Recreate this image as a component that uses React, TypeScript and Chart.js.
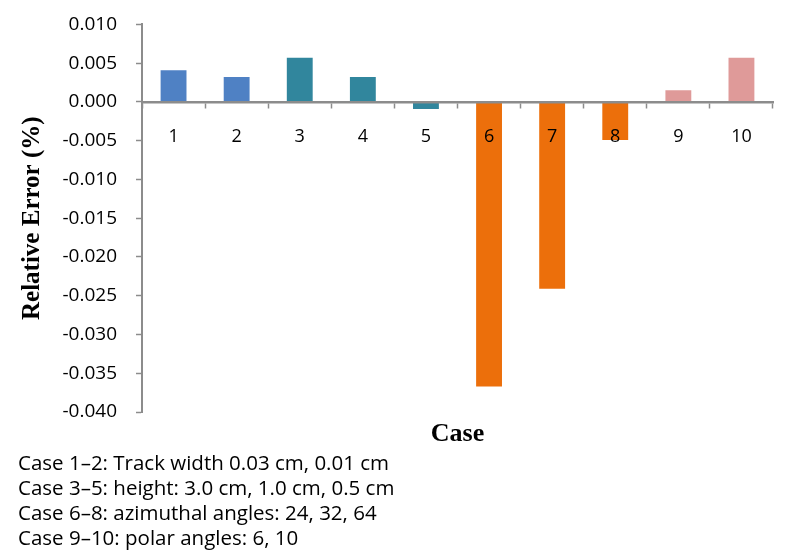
import React, { useEffect, useRef } from "react";
import { Chart, registerables } from "chart.js";

Chart.register(...registerables);

const categories = ["1", "2", "3", "4", "5", "6", "7", "8", "9", "10"];
const relativeError = [0.0041, 0.0032, 0.0057, 0.0032, -0.0009, -0.0367, -0.0241, -0.0049, 0.0015, 0.0057];
const barColors = ["#4F81C4", "#4F81C4", "#31869D", "#31869D", "#31869D", "#EC6F0B", "#EC6F0B", "#EC6F0B", "#DF9A99", "#DF9A99"];
const yTitle = "Relative Error (%)";
const xTitle = "Case";
const captionLines = [
  "Case 1–2: Track width 0.03 cm, 0.01 cm",
  "Case 3–5: height: 3.0 cm, 1.0 cm, 0.5 cm",
  "Case 6–8: azimuthal angles: 24, 32, 64",
  "Case 9–10: polar angles: 6, 10",
];

const TICK_FONT = "'Open Sans', 'DejaVu Sans', sans-serif";
const AXIS_GRAY = "#8C8C8C";
const SHIFT = 6;

const titlePlugin = {
  id: "axisTitles",
  afterDraw(chart: any) {
    const { ctx, chartArea } = chart;
    ctx.save();
    ctx.fillStyle = "#000";
    ctx.textAlign = "center";
    ctx.textBaseline = "middle";
    ctx.font = "bold 26px 'Liberation Serif', 'Times New Roman', serif";
    ctx.fillText(xTitle, (chartArea.left + chartArea.right) / 2, 434 + SHIFT);
    ctx.font = "bold 25px 'Liberation Serif', 'Times New Roman', serif";
    ctx.translate(33, (chartArea.top + chartArea.bottom) / 2);
    ctx.rotate(-Math.PI / 2);
    ctx.fillText(yTitle, 0, 0);
    ctx.restore();
  },
};

export default function App() {
  const canvasRef = useRef<HTMLCanvasElement | null>(null);

  useEffect(() => {
    if (!canvasRef.current) return;
    const chart = new Chart(canvasRef.current, {
      type: "bar",
      data: {
        labels: categories,
        datasets: [
          {
            data: relativeError,
            backgroundColor: barColors,
            borderWidth: 0,
            barPercentage: 0.41,
            categoryPercentage: 1,
          },
        ],
      },
      options: {
        animation: false,
        responsive: false,
        maintainAspectRatio: false,
        layout: { padding: { top: 5, right: 24, bottom: 145 - SHIFT, left: 0 } },
        plugins: { legend: { display: false }, tooltip: { enabled: false } },
        scales: {
          x: {
            position: { y: 0 } as any,
            grid: {
              drawOnChartArea: false,
              drawTicks: true,
              tickLength: 5,
              tickWidth: 1.5,
              tickColor: AXIS_GRAY,
              offset: true,
              z: 1,
            },
            border: { display: true, color: AXIS_GRAY, width: 2.5, z: 1 },
            ticks: {
              color: "#000",
              font: { family: TICK_FONT, size: 18 },
              padding: 19,
              maxRotation: 0,
              z: 1,
            },
          },
          y: {
            min: -0.04,
            max: 0.01,
            afterFit(scale: any) {
              scale.width = 142;
            },
            grid: {
              drawOnChartArea: false,
              drawTicks: true,
              tickLength: 6,
              tickWidth: 1.5,
              tickColor: AXIS_GRAY,
            },
            border: { display: true, color: AXIS_GRAY, width: 2 },
            ticks: {
              stepSize: 0.005,
              color: "#000",
              font: { family: TICK_FONT, size: 19 },
              padding: 19,
              callback: (v: any) => Number(v).toFixed(3),
            },
          },
        },
      },
      plugins: [titlePlugin],
    });
    return () => chart.destroy();
  }, []);

  return (
    <div style={{ position: "fixed", left: 0, top: 0, width: 797, height: 557, background: "#fff", overflow: "hidden" }}>
      <canvas ref={canvasRef} width={797} height={557} style={{ position: "absolute", left: 0, top: -SHIFT, width: 797, height: 557 }} />
      <div
        style={{
          position: "absolute",
          left: 18,
          top: 450,
          fontFamily: TICK_FONT,
          fontSize: 20.5,
          lineHeight: "25px",
          color: "#000",
          whiteSpace: "pre",
        }}
      >
        {captionLines.map((l, i) => (
          <div key={i}>{l}</div>
        ))}
      </div>
    </div>
  );
}
